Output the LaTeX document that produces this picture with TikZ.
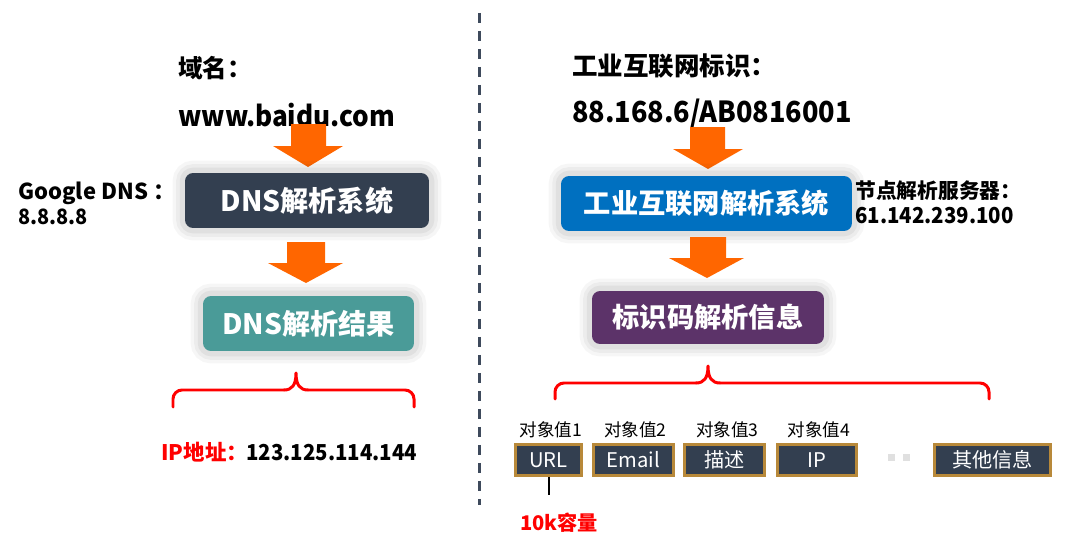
\documentclass[tikz,border=0pt]{standalone}
\usepackage{fontspec}
\setmainfont{Noto Sans CJK SC}
\usetikzlibrary{calc}
\definecolor{arrowor}{HTML}{FF6600}
\definecolor{darkbox}{HTML}{333F50}
\definecolor{tealbox}{HTML}{4A9B98}
\definecolor{bluebox}{HTML}{0070C0}
\definecolor{purplebox}{HTML}{5C3369}
\definecolor{goldline}{HTML}{B8893A}
\definecolor{redtxt}{HTML}{FF0000}
\definecolor{dashcol}{HTML}{3E4A5C}
\definecolor{dotcol}{HTML}{E0E0E0}
\newcommand{\fsz}[1]{\fontsize{#1}{#1}\selectfont}
\newcommand{\xs}[2]{\scalebox{#1}[1]{#2}}
\tikzset{
  glow/.style={
    preaction={draw=black, draw opacity=0.035, line width=14pt},
    preaction={draw=black, draw opacity=0.04, line width=10pt},
    preaction={draw=black, draw opacity=0.05, line width=6pt}},
  bigbox/.style={glow, rounded corners=0.16cm, inner sep=0pt, text=white,
    font=\bfseries\fsz{16pt}, minimum height=1.10cm},
  smallbox/.style={draw=goldline, line width=1.7pt, fill=darkbox, inner sep=0pt,
    text=white, font=\fsz{11.5pt}, minimum height=0.62cm},
  objlbl/.style={font=\fsz{10pt}, inner sep=0pt},
  blockarrow/.style={fill=arrowor},
  bracepath/.style={draw=redtxt, line width=1.7pt, line cap=round, line join=round},
  plain/.style={inner sep=0pt}
}
\begin{document}
\begin{tikzpicture}[x=0.02cm, y=-0.02cm]
\useasboundingbox (0,0) rectangle (1067,537);

% divider
\draw[dashcol, line width=1.7pt, dash pattern=on 0.2cm off 0.16cm] (479,13) -- (479,505);

% ---------- left side ----------
\node[plain, anchor=west, font=\bfseries\fsz{14pt}] (domlbl) at (178,68) {域名：};
\node[plain, anchor=base west, font=\bfseries\fsz{16pt}] (domain) at (178,126) {\xs{0.93}{www.baidu.com}};

\fill[blockarrow] (291,124) -- (326,124) -- (326,146) -- (343,146) -- (308,167) -- (273,146) -- (291,146) -- cycle;

\node[bigbox, fill=darkbox, minimum width=4.88cm] (dnssys) at (307,200.5) {DNS解析系统};

\node[plain, anchor=base west, font=\bfseries\fsz{12.5pt}] (gdns) at (18,199) {Google DNS ：};
\node[plain, anchor=base west, font=\bfseries\fsz{12pt}] (gdnsip) at (18,224) {\xs{0.945}{8.8.8.8}};

\fill[blockarrow] (287,242) -- (325,242) -- (325,263) -- (343,263) -- (306,283) -- (268,263) -- (287,263) -- cycle;

\node[bigbox, fill=tealbox, minimum width=4.22cm] (dnsres) at (308.5,323.5) {DNS解析结果};

\draw[bracepath, rounded corners=0.18cm] (173,407) -- (173,390) -- (284,390);
\draw[bracepath] (284,390) .. controls (292,390) and (296,385) .. (296,373)
                 .. controls (296,385) and (300,390) .. (308,390);
\draw[bracepath, rounded corners=0.18cm] (308,390) -- (414,390) -- (414,407);

\node[plain, anchor=west, text=redtxt, font=\bfseries\fsz{12.2pt}] (iplbl) at (161,452) {IP地址：};
\node[plain, anchor=base west, font=\bfseries\fsz{12.5pt}] (ipval) at (246,460) {\xs{0.93}{123.125.114.144}};

% ---------- right side ----------
\node[plain, anchor=west, font=\bfseries\fsz{14.5pt}] (idlbl) at (572,66) {工业互联网标识：};
\node[plain, anchor=base west, font=\bfseries\fsz{16.5pt}] (idval) at (572,122) {\xs{0.935}{88.168.6/AB0816001}};

\fill[blockarrow] (690,127) -- (725,127) -- (725,149) -- (743,149) -- (708,169) -- (673,149) -- (690,149) -- cycle;

\node[bigbox, fill=bluebox, minimum width=5.82cm, font=\bfseries\fsz{15.5pt}] (idsys) at (706.5,203.5) {工业互联网解析系统};

\node[plain, anchor=west, font=\bfseries\fsz{11.8pt}] (nodelbl) at (855,191) {节点解析服务器：};
\node[plain, anchor=base west, font=\bfseries\fsz{12.5pt}] (nodeip) at (855,223) {\xs{0.93}{61.142.239.100}};

\fill[blockarrow] (690,237) -- (726,237) -- (726,258) -- (744,258) -- (707,278) -- (669,258) -- (690,258) -- cycle;

\node[bigbox, fill=purplebox, minimum width=4.64cm, minimum height=1.06cm, font=\bfseries\fsz{15.5pt}] (idinfo) at (708,317.5) {标识码解析信息};

\draw[bracepath, rounded corners=0.18cm] (555,399) -- (555,383) -- (696,383);
\draw[bracepath] (696,383) .. controls (704,383) and (708,378) .. (708,366)
                 .. controls (708,378) and (712,383) .. (720,383);
\draw[bracepath, rounded corners=0.18cm] (720,383) -- (989,383) -- (989,399);

\node[objlbl] (o1) at (551,430) {对象值1};
\node[objlbl] (o2) at (635.5,430) {对象值2};
\node[objlbl] (o3) at (727.5,430) {对象值3};
\node[objlbl] (o4) at (819,430) {对象值4};

\node[smallbox, minimum width=1.32cm] (url) at (548.5,460) {URL};
\node[smallbox, minimum width=1.60cm] (email) at (633.5,460) {Email};
\node[smallbox, minimum width=1.60cm] (desc) at (724.5,460) {描述};
\node[smallbox, minimum width=1.58cm] (ip) at (817,460) {IP};
\node[smallbox, minimum width=2.32cm] (other) at (992.5,460) {其他信息};

\fill[dotcol] (888,454) rectangle (895,461);
\fill[dotcol] (903,454) rectangle (910,461);

\coordinate (capend) at (549,495);
\draw[black, line width=0.6pt] (url.south -| capend) -- (capend);
\node[plain, anchor=west, text=redtxt, font=\bfseries\fsz{11.5pt}] (cap) at (520,523) {10k容量};
\end{tikzpicture}
\end{document}
